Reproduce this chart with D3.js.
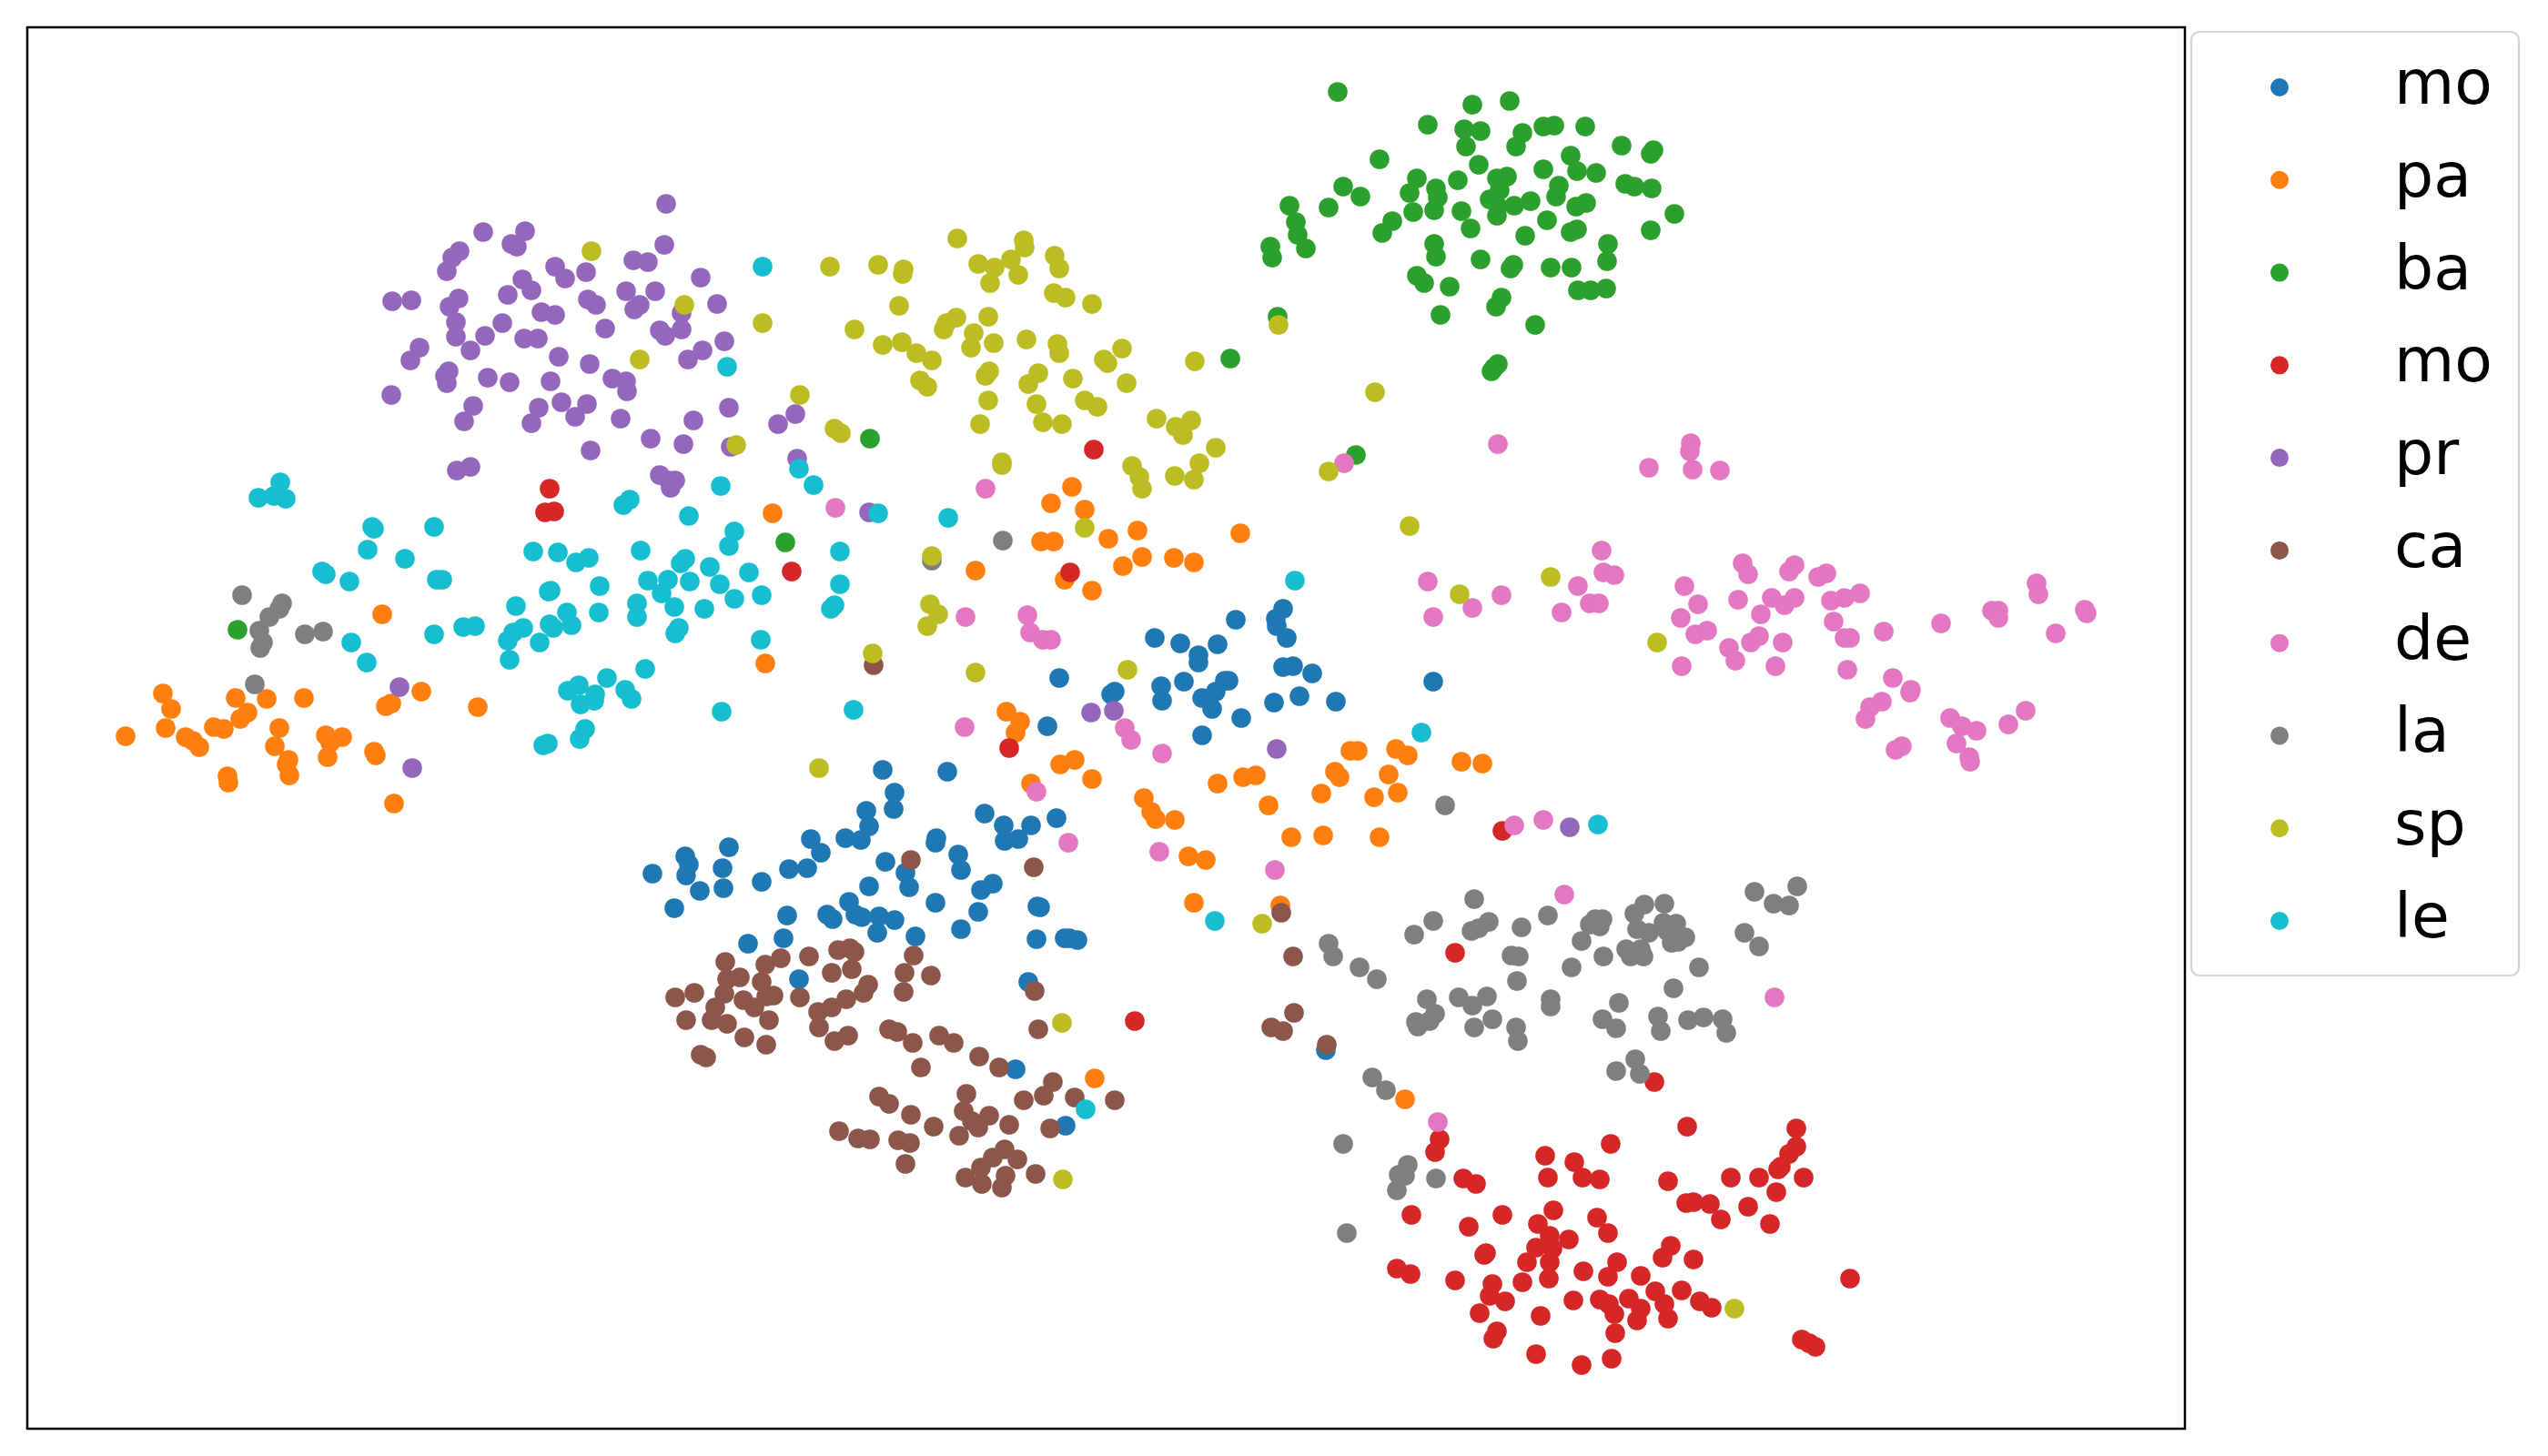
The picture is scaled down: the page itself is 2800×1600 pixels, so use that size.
<!DOCTYPE html>
<html><head><meta charset="utf-8">
<script src="https://cdn.jsdelivr.net/npm/d3@7"></script>
<style>html,body{margin:0;padding:0;background:#fff}svg{display:block}</style>
</head><body><div id="c"></div>
<script>
const labels = ["mo","pa","ba","mo","pr","ca","de","la","sp","le"];
const colors = ["#1f77b4","#ff7f0e","#2ca02c","#d62728","#9467bd","#8c564b","#e377c2","#7f7f7f","#bcbd22","#17becf"];

const mo1 = [[1358,681],[1410,669],[1402,680],[1403,688],[1414,701],[1269,701],[1297,707],[1338,708],[1317,720],[1317,728],[1410,733],[1421,732],[1442,740],[1164,745],[1575,749],[1225,760],[1221,763],[1276,754],[1301,749],[1350,748],[1346,748],[1336,760],[1321,767],[1277,770],[1400,772],[1428,765],[1468,771],[1332,779],[1364,789],[1151,798],[1321,808],[970,846],[1041,848],[983,871],[952,891],[982,889],[955,908],[1082,894],[1103,907],[1133,907],[1161,899],[891,922],[929,921],[946,923],[1104,924],[1119,922],[1029,921],[1028,926],[801,931],[753,941],[757,950],[902,937],[717,960],[754,962],[794,954],[887,954],[867,955],[973,947],[1053,939],[1056,956],[995,959],[837,969],[955,974],[999,975],[795,976],[769,979],[1091,971],[1078,978],[741,998],[933,991],[1028,992],[1075,1002],[865,1006],[909,1005],[915,1010],[940,1005],[947,1008],[966,1007],[983,1011],[1140,996],[1143,997],[964,1025],[1006,1029],[1056,1021],[861,1031],[822,1037],[1139,1032],[1170,1031],[1175,1031],[1184,1033],[878,1076],[1130,1079],[1116,1175],[1171,1237],[1457,1154]];

const pa = [[849,564],[420,675],[841,729],[179,762],[188,779],[259,767],[293,768],[334,767],[463,760],[430,773],[424,776],[525,777],[272,783],[264,790],[182,800],[235,799],[246,801],[307,800],[138,809],[204,810],[212,814],[219,821],[358,808],[376,810],[363,816],[302,820],[360,832],[317,835],[315,840],[318,852],[411,826],[413,830],[250,853],[251,860],[433,883],[1178,535],[1155,553],[1192,560],[1250,583],[1363,586],[1144,595],[1158,595],[1218,592],[1255,612],[1290,613],[1312,618],[1234,622],[1072,627],[1170,637],[1200,649],[1106,782],[1121,793],[1116,805],[1165,840],[1181,835],[1200,856],[1133,861],[1257,877],[1265,892],[1270,900],[1291,901],[1338,861],[1366,854],[1380,852],[1394,885],[1467,848],[1472,854],[1452,872],[1484,825],[1492,825],[1534,823],[1547,830],[1526,851],[1510,876],[1536,871],[1606,837],[1629,839],[1419,920],[1454,918],[1516,920],[1306,941],[1325,945],[1312,992],[1407,995],[1203,1185],[1544,1208]];

const ba = [[1470,101],[1618,115],[1659,111],[1569,137],[1609,142],[1627,144],[1673,146],[1696,139],[1708,138],[1742,139],[1782,160],[1817,165],[1814,169],[1611,161],[1666,161],[1516,175],[1726,171],[1625,181],[1696,186],[1733,188],[1754,190],[1645,196],[1656,194],[1557,196],[1602,198],[1476,205],[1549,212],[1578,207],[1580,217],[1648,209],[1713,204],[1710,216],[1786,202],[1796,205],[1815,207],[1495,216],[1637,219],[1682,221],[1664,226],[1646,227],[1417,226],[1460,228],[1743,223],[1732,227],[1553,233],[1576,231],[1606,232],[1645,237],[1840,235],[1424,244],[1530,243],[1700,242],[1616,251],[1519,256],[1733,252],[1726,255],[1814,253],[1426,258],[1676,259],[1435,273],[1396,271],[1398,283],[1576,268],[1578,282],[1767,268],[1627,285],[1766,287],[1663,291],[1660,295],[1704,294],[1727,294],[1557,303],[1565,311],[1593,315],[1734,319],[1748,319],[1765,317],[1650,327],[1644,337],[1583,346],[1687,357],[1404,348],[1352,394],[1646,400],[1639,408],[1642,404],[1490,500],[956,482],[863,596],[261,692]];

const mo2 = [[604,537],[599,563],[609,562],[870,628],[1202,494],[1176,629],[1109,822],[1247,1122],[1651,913],[1599,1047],[1818,1189],[1854,1238],[1770,1257],[1974,1240],[1974,1260],[1966,1268],[1582,1252],[1577,1266],[1698,1270],[1730,1277],[1957,1282],[1954,1285],[1608,1295],[1622,1301],[1701,1294],[1739,1294],[1758,1296],[1833,1298],[1902,1294],[1933,1294],[1982,1294],[1952,1310],[1853,1322],[1861,1321],[1879,1323],[1921,1326],[1891,1340],[1945,1345],[1551,1335],[1651,1335],[1707,1330],[1755,1338],[1614,1348],[1690,1345],[1767,1355],[1703,1358],[1724,1362],[1706,1372],[1688,1371],[1836,1369],[1827,1382],[1861,1384],[1633,1377],[1631,1379],[1678,1387],[1703,1387],[1777,1387],[1740,1397],[1803,1402],[1767,1403],[1535,1394],[1550,1400],[1599,1407],[1640,1411],[1673,1409],[1702,1405],[1637,1424],[1654,1430],[1729,1429],[1758,1428],[1768,1433],[1774,1444],[1790,1427],[1819,1419],[1829,1433],[1848,1418],[1868,1430],[1881,1437],[1803,1438],[1799,1451],[1833,1449],[1626,1443],[1693,1446],[1645,1463],[1641,1471],[1775,1465],[1688,1488],[1771,1493],[1738,1500],[2033,1405],[1980,1472],[1988,1476],[1995,1480]];

const pr = [[732,224],[531,255],[577,254],[562,268],[568,271],[505,276],[497,283],[491,298],[610,293],[621,306],[644,299],[696,286],[712,288],[730,269],[770,305],[574,307],[584,319],[558,324],[504,328],[494,337],[431,331],[452,330],[646,329],[655,335],[688,320],[720,320],[703,335],[697,340],[788,334],[749,344],[595,343],[610,346],[501,354],[501,370],[552,355],[533,369],[665,361],[725,363],[731,369],[749,362],[576,372],[591,372],[796,375],[517,385],[461,382],[451,396],[614,392],[648,400],[772,385],[756,395],[493,408],[489,413],[491,421],[536,415],[560,420],[605,419],[673,416],[688,419],[689,430],[430,434],[520,446],[510,463],[592,448],[584,465],[617,442],[645,444],[632,458],[682,460],[762,462],[801,448],[874,455],[855,466],[715,482],[751,488],[803,491],[649,495],[876,504],[502,517],[517,513],[725,522],[742,528],[735,528],[737,536],[955,563],[439,755],[453,844],[1199,783],[1224,781],[1403,823],[1725,909]];

const ca = [[1004,1050],[889,1051],[797,1057],[841,1060],[858,1053],[921,1044],[934,1042],[939,1046],[994,1069],[1023,1072],[914,1069],[936,1065],[813,1074],[799,1076],[837,1079],[993,1090],[954,1082],[949,1091],[796,1092],[763,1091],[742,1096],[850,1094],[842,1095],[879,1096],[930,1098],[817,1099],[786,1107],[829,1107],[914,1107],[899,1112],[1137,1089],[754,1121],[782,1121],[799,1125],[845,1121],[900,1129],[977,1131],[986,1134],[1032,1138],[1048,1146],[1003,1146],[932,1138],[917,1144],[818,1140],[842,1148],[770,1159],[776,1162],[1141,1131],[1076,1161],[1098,1173],[1012,1173],[1157,1189],[1062,1202],[1147,1204],[1125,1209],[1181,1206],[1225,1209],[966,1205],[977,1213],[1059,1221],[1087,1226],[1001,1225],[1068,1232],[1075,1239],[1109,1236],[1026,1238],[1154,1240],[1054,1248],[922,1243],[943,1251],[956,1252],[987,1253],[1000,1256],[995,1279],[1104,1263],[1091,1272],[1118,1274],[1078,1283],[1138,1290],[1105,1292],[1061,1294],[1079,1301],[1101,1305],[1136,953],[1421,1051],[1408,1003],[1422,1113],[1397,1129],[1410,1133],[1458,1148],[1001,945],[960,731]];

const de = [[1083,537],[918,558],[1477,509],[1646,488],[1858,487],[1857,496],[1812,514],[1860,516],[1890,517],[1061,678],[1129,676],[1132,695],[1146,703],[1155,703],[1060,799],[1236,800],[1243,813],[1277,828],[1174,926],[1139,870],[1274,936],[1401,956],[1760,605],[1762,629],[1774,632],[1734,644],[1569,639],[1650,654],[1747,663],[1757,663],[1618,668],[1575,678],[1716,673],[1915,619],[1921,631],[1972,621],[1966,628],[2007,630],[1998,634],[1851,644],[1910,659],[1947,657],[1961,665],[1972,657],[1866,664],[2012,660],[2027,657],[2044,652],[1847,679],[1935,675],[2015,683],[1863,697],[1876,693],[1924,706],[1933,699],[1959,706],[2027,701],[2033,701],[2070,694],[2133,685],[2189,671],[2196,671],[2196,679],[2238,641],[2240,653],[2291,670],[2293,674],[2259,696],[1900,712],[1907,726],[1848,732],[1951,732],[2030,736],[2080,745],[2100,758],[2099,761],[2068,771],[2055,777],[2050,790],[2143,789],[2156,798],[2172,803],[2207,796],[2226,781],[2150,817],[2090,820],[2083,824],[2164,832],[2165,837],[1664,907],[1696,901],[1719,983],[1950,1096],[1580,1233]];

const la = [[266,654],[310,663],[307,669],[296,678],[285,693],[289,706],[286,712],[335,697],[355,694],[280,752],[1102,594],[1024,616],[1588,885],[1620,988],[1575,1012],[1554,1027],[1636,1013],[1625,1020],[1617,1023],[1672,1019],[1701,1006],[1753,1010],[1761,1010],[1747,1016],[1758,1018],[1807,994],[1829,993],[1796,1004],[1799,1021],[1812,1025],[1828,1014],[1842,1015],[1832,1023],[1852,1030],[1837,1036],[1844,1035],[1738,1034],[1460,1037],[1465,1051],[1494,1063],[1513,1076],[1661,1050],[1669,1051],[1762,1051],[1727,1063],[1787,1043],[1803,1043],[1792,1051],[1806,1051],[1867,1063],[1667,1078],[1839,1086],[1928,980],[1975,974],[1949,993],[1966,995],[1917,1025],[1933,1040],[1568,1098],[1603,1096],[1634,1095],[1618,1105],[1704,1098],[1704,1106],[1577,1114],[1571,1122],[1556,1123],[1558,1128],[1640,1120],[1620,1129],[1666,1129],[1668,1144],[1779,1102],[1761,1120],[1776,1130],[1822,1117],[1825,1133],[1855,1121],[1872,1118],[1893,1120],[1897,1135],[1797,1164],[1776,1177],[1802,1180],[1508,1184],[1523,1198],[1476,1257],[1547,1280],[1537,1291],[1544,1292],[1535,1308],[1578,1295],[1480,1355]];

const sp = [[650,276],[752,335],[703,395],[879,434],[809,489],[917,471],[924,476],[838,355],[912,293],[965,291],[993,296],[992,301],[988,336],[939,362],[970,379],[991,376],[900,844],[959,718],[1052,262],[1125,264],[1126,272],[1075,290],[1093,294],[1111,285],[1119,302],[1159,281],[1164,295],[1088,311],[1158,322],[1171,327],[1200,334],[1007,388],[1024,396],[1051,349],[1040,355],[1037,362],[1086,348],[1070,366],[1067,382],[1092,377],[1128,373],[1162,378],[1164,388],[1233,383],[1213,395],[1217,399],[1087,408],[1083,413],[1141,410],[1130,422],[1179,416],[1238,421],[1313,397],[1011,418],[1019,425],[1086,440],[1139,444],[1192,440],[1206,447],[1146,464],[1077,466],[1167,466],[1271,460],[1292,469],[1309,462],[1300,478],[1336,492],[1101,508],[1101,511],[1244,512],[1252,524],[1255,537],[1291,523],[1318,509],[1312,527],[1405,357],[1511,431],[1460,518],[1549,578],[1192,580],[1024,611],[1022,664],[1031,675],[1019,688],[1072,739],[1239,736],[1704,634],[1604,653],[1821,706],[1167,1124],[1168,1296],[1387,1015],[1906,1438]];

const le = [[838,293],[799,403],[308,530],[284,547],[301,545],[314,548],[878,515],[894,533],[792,534],[685,555],[692,549],[757,567],[965,564],[409,579],[411,581],[477,579],[404,604],[445,614],[586,606],[613,607],[633,618],[647,613],[704,605],[807,584],[801,600],[923,606],[753,614],[748,619],[780,623],[354,628],[358,631],[384,639],[480,637],[486,637],[823,629],[659,644],[712,638],[734,637],[758,639],[791,642],[923,642],[603,650],[605,649],[727,652],[837,654],[807,658],[700,663],[741,667],[774,669],[567,666],[917,665],[913,669],[623,673],[658,673],[700,678],[628,687],[604,686],[608,690],[575,690],[564,695],[746,690],[742,696],[509,689],[522,688],[477,697],[386,706],[558,704],[593,706],[836,703],[560,725],[403,728],[709,735],[667,745],[624,759],[636,753],[687,758],[694,768],[654,763],[653,770],[638,774],[793,782],[938,780],[643,801],[637,812],[597,819],[602,817],[1042,569],[1423,638],[1562,805],[1335,1012],[1193,1219],[1756,906]];

const seriesPoints = [mo1, pa, ba, mo2, pr, ca, de, la, sp, le];

const W = 2800, H = 1600;
const plot = {l:30, r:2401, t:30, b:1570};
const x = d3.scaleLinear().domain([30,2401]).range([plot.l, plot.r]);
const y = d3.scaleLinear().domain([30,1570]).range([plot.t, plot.b]);
const markerR = 10.8;
const legendR = 10;

const svg = d3.select("#c").append("svg").attr("width",W).attr("height",H);
svg.append("rect").attr("width",W).attr("height",H).attr("fill","#fff");

const groups = svg.selectAll("g.series").data(seriesPoints).join("g").attr("class","series").attr("fill",(d,i)=>colors[i]);
groups.selectAll("circle").data(d=>d).join("circle")
  .attr("cx",d=>x(d[0])).attr("cy",d=>y(d[1])).attr("r",markerR);

svg.append("rect").attr("x",plot.l).attr("y",plot.t).attr("width",plot.r-plot.l).attr("height",plot.b-plot.t)
  .attr("fill","none").attr("stroke","#000").attr("stroke-width",2.5);

const legend = svg.append("g");
legend.append("rect").attr("x",2408).attr("y",35).attr("width",360).attr("height",1037).attr("rx",9)
  .attr("fill","#fff").attr("fill-opacity",0.8).attr("stroke","#d5d5d5").attr("stroke-width",2.2);
const ly = d3.scaleLinear().domain([0,9]).range([96,1012]);
const items = legend.selectAll("g").data(labels).join("g");
items.append("circle").attr("cx",2505).attr("cy",(d,i)=>ly(i)).attr("r",legendR).attr("fill",(d,i)=>colors[i]);
items.append("text").attr("x",2631).attr("y",(d,i)=>ly(i)+18)
  .attr("font-family","'DejaVu Sans'").attr("font-size",68).attr("fill","#000").text(d=>d);
</script></body></html>
